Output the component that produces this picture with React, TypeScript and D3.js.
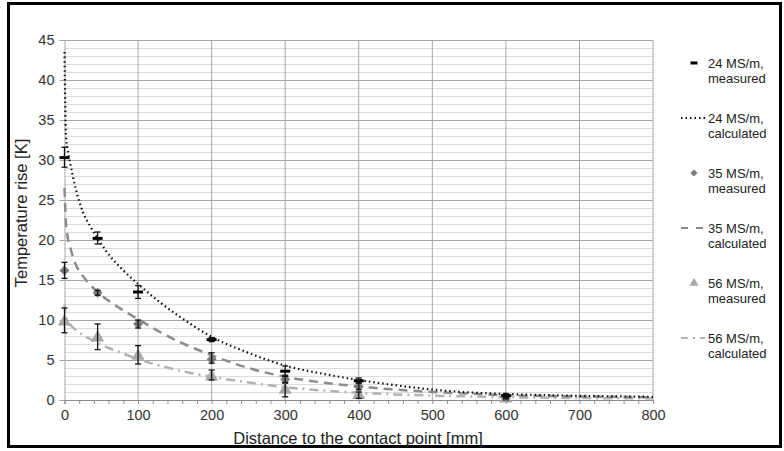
import React, { useEffect, useRef } from 'react';
import * as d3 from 'd3';

// measured points (distance in mm)
const measX = [0, 45, 100, 200, 300, 400, 600];
const meas24 = [30.3, 20.2, 13.5, 7.55, 3.6, 2.4, 0.55];
const err24Lo = [29.1, 19.5, 12.7, 7.3, 3.1, 2.15, 0.3];
const err24Hi = [31.6, 21.0, 14.3, 7.8, 4.25, 2.75, 0.8];
const meas35 = [16.2, 13.4, 9.5, 5.1, 2.6, 1.7, 0.4];
const err35Lo = [15.2, 13.1, 9.0, 4.6, 2.2, 1.3, 0.15];
const err35Hi = [17.2, 13.7, 10.0, 5.9, 2.95, 2.1, 0.65];
const meas56 = [9.8, 7.8, 5.5, 2.9, 1.25, 0.6, 0.15];
const err56Lo = [8.4, 6.3, 4.5, 2.5, 0.4, 0.2, 0.0];
const err56Hi = [11.5, 9.5, 6.8, 3.75, 2.1, 1.0, 0.4];

// calculated curves
const calcX = [0, 1, 2, 4, 8, 15, 25, 35, 45, 60, 80, 100, 130, 160, 200, 250, 300, 350, 400, 450, 500, 550, 600, 650, 700, 750, 800];
const calc24 = [43.5, 37, 33, 31.5, 29.5, 26.5, 23.5, 21.7, 20.2, 18.2, 16.2, 14.5, 12.2, 10.2, 7.9, 5.9, 4.3, 3.3, 2.5, 1.85, 1.3, 0.95, 0.75, 0.62, 0.52, 0.45, 0.4];
const calc35 = [26.5, 24, 22, 20.5, 19, 17, 15.5, 14.4, 13.5, 12.4, 11.2, 10.1, 8.5, 7.1, 5.6, 4.0, 2.9, 2.2, 1.7, 1.3, 1.0, 0.8, 0.6, 0.5, 0.45, 0.4, 0.35];
const calc56 = [12, 11, 10.4, 10, 9.4, 8.8, 8.1, 7.6, 7.1, 6.5, 5.8, 5.1, 4.3, 3.6, 2.9, 2.2, 1.6, 1.2, 0.9, 0.7, 0.55, 0.45, 0.35, 0.3, 0.25, 0.22, 0.2];

const legendLabels = [
  ['24 MS/m,', 'measured'],
  ['24 MS/m,', 'calculated'],
  ['35 MS/m,', 'measured'],
  ['35 MS/m,', 'calculated'],
  ['56 MS/m,', 'measured'],
  ['56 MS/m,', 'calculated'],
];

const FONT = '"Liberation Sans", Arial, sans-serif';

const App: React.FC = () => {
  const ref = useRef<SVGSVGElement | null>(null);

  useEffect(() => {
    const svg = d3.select(ref.current);
    svg.selectAll('*').remove();
    const width = 784;
    const height = 451;
    const left = 64.5, right = 653, top = 40, bottom = 400;

    svg.attr('width', width).attr('height', height);

    svg.append('rect').attr('width', width).attr('height', height).attr('fill', '#fff');
    svg.append('rect')
      .attr('x', 8.5).attr('y', 3.5).attr('width', 772).attr('height', 443)
      .attr('fill', 'none').attr('stroke', '#000').attr('stroke-width', 3);

    const x = d3.scaleLinear().domain([0, 800]).range([left, right]);
    const y = d3.scaleLinear().domain([0, 45]).range([bottom, top]);

    // grid
    const grid = svg.append('g');
    grid.selectAll('line.minor')
      .data(d3.range(1, 46).filter(d => d % 5 !== 0))
      .join('line')
      .attr('x1', left).attr('x2', right)
      .attr('y1', d => Math.round(y(d)) + 0.5).attr('y2', d => Math.round(y(d)) + 0.5)
      .attr('stroke', '#dcdcdc').attr('stroke-width', 1);
    grid.selectAll('line.major')
      .data(d3.range(5, 46, 5))
      .join('line')
      .attr('x1', left).attr('x2', right)
      .attr('y1', d => Math.round(y(d)) + 0.5).attr('y2', d => Math.round(y(d)) + 0.5)
      .attr('stroke', '#a6a6a6').attr('stroke-width', 1);
    grid.selectAll('line.vert')
      .data(d3.range(100, 801, 100))
      .join('line')
      .attr('x1', d => x(d)).attr('x2', d => x(d))
      .attr('y1', top).attr('y2', bottom)
      .attr('stroke', '#a6a6a6').attr('stroke-width', 1);

    // axes
    const yAxis = svg.append('g')
      .attr('transform', `translate(${left},0)`)
      .call(d3.axisLeft(y).tickValues(d3.range(0, 46, 5)).tickSize(5).tickPadding(5));
    yAxis.select('.domain').attr('stroke', '#a6a6a6');
    yAxis.selectAll('line').attr('stroke', '#a6a6a6');
    yAxis.selectAll('text').attr('font-family', FONT).attr('font-size', 14.5).attr('fill', '#333');

    const xAxis = svg.append('g')
      .attr('transform', `translate(0,${bottom})`)
      .call(d3.axisBottom(x).tickValues(d3.range(0, 801, 20)).tickSize(4).tickPadding(6)
        .tickFormat(d => ((d as number) % 100 === 0 ? String(d) : '')));
    xAxis.select('.domain').attr('stroke', '#8c8c8c');
    xAxis.selectAll('line').attr('stroke', '#8c8c8c');
    xAxis.selectAll('text').attr('font-family', FONT).attr('font-size', 14.5).attr('fill', '#333');

    // axis titles
    svg.append('text')
      .attr('x', 358).attr('y', 444)
      .attr('text-anchor', 'middle')
      .attr('font-family', FONT).attr('font-size', 16.5).attr('fill', '#222')
      .text('Distance to the contact point [mm]');
    svg.append('text')
      .attr('transform', 'translate(27,213) rotate(-90)')
      .attr('text-anchor', 'middle')
      .attr('font-family', FONT).attr('font-size', 16.5).attr('fill', '#222')
      .text('Temperature rise [K]');

    // calculated curves
    const line = d3.line<[number, number]>()
      .x(d => x(d[0])).y(d => y(d[1]))
      .curve(d3.curveMonotoneX);
    const curves = [
      { v: calc56, stroke: '#b3b3b3', dash: '9,5,2,5', w: 2.5 },
      { v: calc35, stroke: '#8c8c8c', dash: '9,6', w: 2.5 },
      { v: calc24, stroke: '#111', dash: '1.5,3', w: 2.2 },
    ];
    curves.forEach(c => {
      svg.append('path')
        .datum(calcX.map((cx, i) => [cx, c.v[i]] as [number, number]))
        .attr('d', line)
        .attr('fill', 'none')
        .attr('stroke', c.stroke)
        .attr('stroke-width', c.w)
        .attr('stroke-dasharray', c.dash);
    });

    // measured points with error bars
    const series = [
      { v: meas56, lo: err56Lo, hi: err56Hi, shape: 'tri' },
      { v: meas35, lo: err35Lo, hi: err35Hi, shape: 'dia' },
      { v: meas24, lo: err24Lo, hi: err24Hi, shape: 'dash' },
    ];
    const drawMarker = (g: any, shape: string, cx: number, cy: number, k = 1) => {
      if (shape === 'tri') {
        g.append('path').attr('d', d3.symbol(d3.symbolTriangle, 75 * k * k)()).attr('transform', `translate(${cx},${cy})`).attr('fill', '#a8a8a8');
      } else if (shape === 'dia') {
        g.append('path').attr('d', d3.symbol(d3.symbolSquare, 50 * k * k)()).attr('transform', `translate(${cx},${cy}) rotate(45)`).attr('fill', '#7a7a7a');
      } else {
        g.append('rect').attr('x', cx - 5 * k).attr('y', cy - 1.5).attr('width', 10 * k).attr('height', 3).attr('fill', '#000');
      }
    };
    series.forEach(s => {
      const g = svg.append('g');
      measX.forEach((mx, i) => {
        const cx = x(mx);
        drawMarker(g, s.shape, cx, y(s.v[i]));
        g.append('line').attr('x1', cx).attr('x2', cx).attr('y1', y(s.lo[i])).attr('y2', y(s.hi[i]))
          .attr('stroke', '#111').attr('stroke-width', 1.3);
        [s.lo[i], s.hi[i]].forEach(e => {
          g.append('line').attr('x1', cx - 3).attr('x2', cx + 3).attr('y1', y(e)).attr('y2', y(e))
            .attr('stroke', '#111').attr('stroke-width', 1.3);
        });
      });
    });

    // legend
    const lg = svg.append('g');
    const legendStyles = [
      { kind: 'dash' },
      { kind: 'line', stroke: '#111', dash: '1.5,3', w: 2 },
      { kind: 'dia' },
      { kind: 'line', stroke: '#8c8c8c', dash: '7,8', w: 2 },
      { kind: 'tri' },
      { kind: 'line', stroke: '#b3b3b3', dash: '7,5,2,5', w: 2 },
    ];
    legendLabels.forEach((lab, i) => {
      const cy = 63 + i * 55;
      const st = legendStyles[i];
      if (st.kind === 'line') {
        lg.append('line').attr('x1', 681).attr('x2', 705).attr('y1', cy).attr('y2', cy)
          .attr('stroke', st.stroke as string).attr('stroke-width', st.w as number)
          .attr('stroke-dasharray', st.dash as string);
      } else {
        drawMarker(lg, st.kind, 694, cy, 0.7);
      }
      lab.forEach((t, j) => {
        lg.append('text')
          .attr('x', 708).attr('y', cy + j * 15).attr('dy', '0.35em')
          .attr('font-family', FONT).attr('font-size', 13).attr('fill', '#222')
          .text(t);
      });
    });
  }, []);

  return <svg ref={ref} style={{ position: 'absolute', left: 0, top: 0 }}></svg>;
};

export default App;
